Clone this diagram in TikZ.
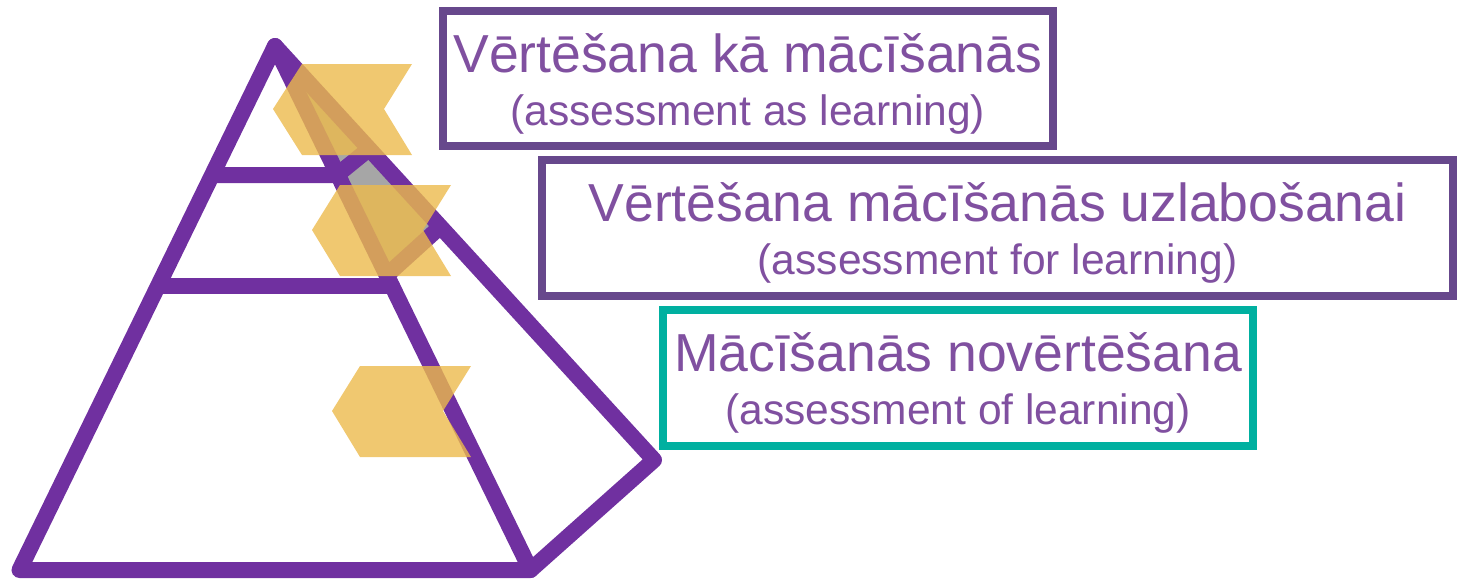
\documentclass[tikz,border=0pt]{standalone}
\usepackage{fontspec}
\setmainfont{Liberation Sans}
\definecolor{pyrpurple}{RGB}{112,48,160}
\definecolor{boxpurple}{RGB}{103,72,140}
\definecolor{txtpurple}{RGB}{128,80,160}
\definecolor{boxteal}{RGB}{0,176,160}
\definecolor{facegray}{RGB}{166,166,166}
\definecolor{flagyellow}{RGB}{236,186,76}
\tikzset{
  edge/.style={draw=pyrpurple, line width=16pt, line join=round, line cap=round},
  flag/.style={fill=flagyellow, fill opacity=0.8},
  tbox/.style={draw=#1, line width=8pt, fill=white, inner sep=0pt},
  bigtext/.style={text=txtpurple, inner sep=0pt, anchor=base, font=\fontsize{53.5}{60}\selectfont},
  smalltext/.style={text=txtpurple, inner sep=0pt, anchor=base, font=\fontsize{42.5}{50}\selectfont},
}
\begin{document}
\begin{tikzpicture}[x=1pt,y=-1pt]
\useasboundingbox (0,0) rectangle (1466,581);
% pyramid
\coordinate (apex) at (275,46);
\coordinate (bl) at (19.5,570);
\coordinate (br) at (530.5,570);
\coordinate (back) at (654,460);
\coordinate (l1a) at (216,175);
\coordinate (l1b) at (337,175);
\coordinate (l1c) at (369,149);
\coordinate (l2a) at (161,286);
\coordinate (l2b) at (392,286);
\coordinate (l2f) at (387,275);
\coordinate (l2c) at (440,227);
\fill[facegray] (apex) -- (l2c) -- (l2f) -- cycle;
\draw[edge] (apex) -- (bl) -- (br) -- (back) -- cycle;
\draw[edge] (apex) -- (br);
\draw[edge] (l1a) -- (l1b) -- (l1c);
\draw[edge] (l2a) -- (l2b);
\draw[edge] (l2f) -- (l2c);
% flags
\fill[flag] (273,109) -- (302,64) -- (412,64) -- (384,109) -- (412,155) -- (302,155) -- cycle;
\fill[flag] (312,230) -- (340,185) -- (451,185) -- (423,230) -- (451,276) -- (340,276) -- cycle;
\fill[flag] (332,411) -- (360,366) -- (471,366) -- (443,411) -- (471,457) -- (360,457) -- cycle;
% boxes
\node[tbox=boxpurple, minimum width=610.5pt, minimum height=134.5pt] (box1) at (747.75,78.25) {};
\node[tbox=boxpurple, minimum width=911pt, minimum height=135.5pt] (box2) at (997.5,227.75) {};
\node[tbox=boxteal, minimum width=590pt, minimum height=135.5pt] (box3) at (958,377.75) {};
\node[bigtext] (t1a) at (747.75,72) {Vērtēšana kā mācīšanās};
\node[smalltext] (t1b) at (747.75,125) {(assessment as learning)};
\node[bigtext] (t2a) at (997.5,221) {Vērtēšana mācīšanās uzlabošanai};
\node[smalltext] (t2b) at (997.5,274) {(assessment for learning)};
\node[bigtext] (t3a) at (958,371) {Mācīšanās novērtēšana};
\node[smalltext] (t3b) at (958,424) {(assessment of learning)};
\end{tikzpicture}
\end{document}
